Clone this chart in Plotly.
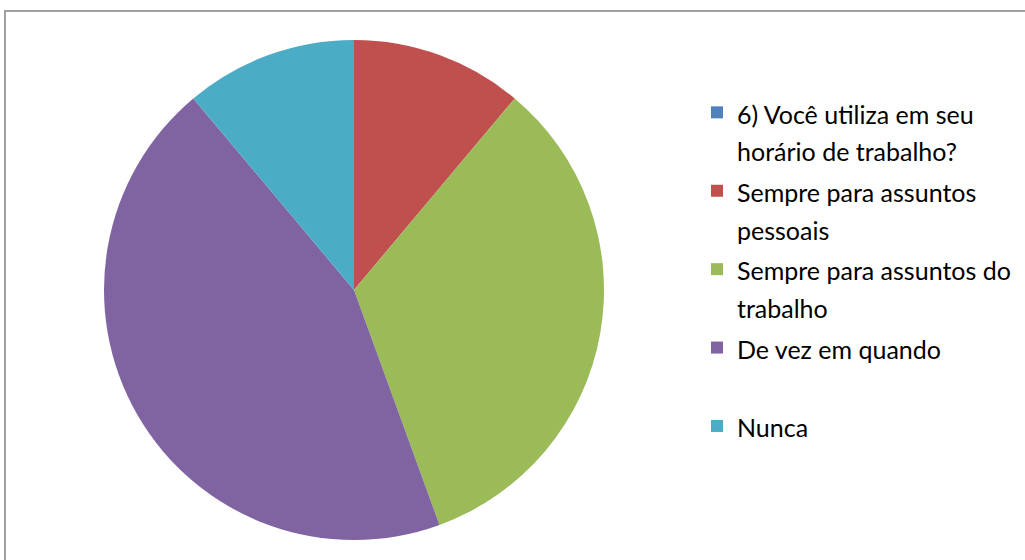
import plotly.graph_objects as go

# respostas da pergunta 6
labels = [
    "6) Você utiliza em seu<br>horário de trabalho?",
    "Sempre para assuntos<br>pessoais",
    "Sempre para assuntos do<br>trabalho",
    "De vez em quando<br> ",
    "Nunca",
]
values = [0, 1, 3, 4, 1]
colors = ["#4F81BD", "#C0504D", "#9BBB59", "#8064A2", "#4BACC6"]

W, H = 1025, 560


def span(t):
    # glyph size smaller than the line box, to get Excel-like spacing
    return "<br>".join(f'<span style="font-size:25px">{p}</span>' for p in t.split("<br>"))


fig = go.Figure()

fig.add_trace(go.Pie(
    labels=[span(l) for l in labels],
    values=values,
    marker=dict(colors=colors, line=dict(width=0)),
    sort=False,
    direction="clockwise",
    rotation=0,
    textinfo="none",
    hoverinfo="label+value+percent",
    domain=dict(x=[104 / W, 604 / W], y=[20 / H, 520 / H]),
))

# chart frame (only top and left edges fall inside the picture)
fig.add_shape(type="rect", xref="paper", yref="paper",
              x0=5 / W, x1=1.2, y0=-0.2, y1=(H - 11) / H,
              line=dict(color="#A0A0A0", width=2), fillcolor="rgba(0,0,0,0)")

fig.update_layout(
    width=W, height=H,
    margin=dict(l=0, r=0, t=0, b=0),
    paper_bgcolor="white",
    plot_bgcolor="white",
    font=dict(family="Lato, Carlito, Calibri, sans-serif", color="#000000"),
    legend=dict(
        x=697 / W, xanchor="left",
        y=1 - 87 / H, yanchor="top",
        valign="top",
        font=dict(size=29, color="#000000"),
        bgcolor="rgba(0,0,0,0)",
    ),
)

fig.write_html("out.html",
               config={"displayModeBar": False},
               post_script="document.body.style.margin='0';"
                           "document.body.style.overflow='hidden';")
